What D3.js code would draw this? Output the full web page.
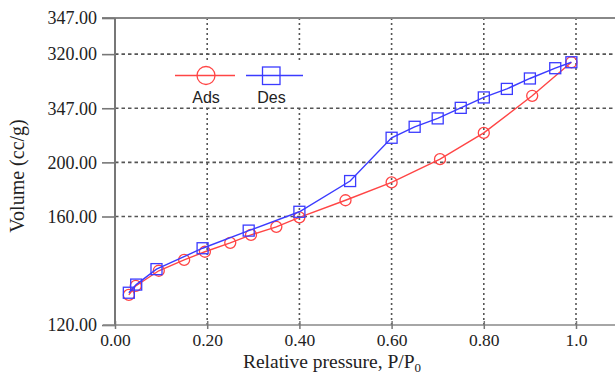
<!DOCTYPE html>
<html><head><meta charset="utf-8">
<script src="https://cdn.jsdelivr.net/npm/d3@7"></script>
<style>body{margin:0;background:#fff}svg{display:block}</style>
</head><body><svg id="c" width="615" height="378"></svg>
<script>
const adsP = [0.03,0.045,0.095,0.15,0.195,0.25,0.295,0.35,0.40,0.50,0.60,0.705,0.80,0.905,0.99];
const adsV = [131.1,134.4,140.0,144.0,147.0,150.3,153.2,156.2,159.7,172.0,185.2,202.4,221.8,249.2,274.0];
const desP = [0.03,0.046,0.09,0.19,0.29,0.40,0.51,0.60,0.65,0.70,0.75,0.80,0.85,0.90,0.955,0.99];
const desV = [131.9,134.9,140.6,148.3,154.8,163.5,186.2,218.2,226.3,232.5,240.3,248.0,254.3,262.0,269.6,274.0];
const xTicks = [0,0.2,0.4,0.6,0.8,1.0];
const xTickLabels = ["0.00","0.20","0.40","0.60","0.80","1.0"];
const yTicks = [120,160,200,240,280,306.7];
const yTickLabels = ["120.00","160.00","200.00","347.00","320.00","347.00"];
const seriesNames = ["Ads","Des"];
const colors = ["#ff4545","#3b3bff"];

const svg = d3.select("#c");
const x = d3.scaleLinear().domain([0,1]).range([115,576]);
const y = d3.scaleLinear().domain([120,160,306.7]).range([325,216.5,18]);
const xR = 615;

// gridlines
svg.append("g").selectAll("line").data(yTicks.slice(1,5)).join("line")
  .attr("x1",115).attr("x2",xR).attr("y1",d=>y(d)).attr("y2",d=>y(d))
  .attr("stroke","#555").attr("stroke-width",1.6).attr("stroke-dasharray","3.5,3");
svg.append("g").selectAll("line").data(xTicks.slice(1)).join("line")
  .attr("x1",d=>x(d)).attr("x2",d=>x(d)).attr("y1",y(306.7)).attr("y2",y(120))
  .attr("stroke","#555").attr("stroke-width",1.6).attr("stroke-dasharray","2,3");

// top border
svg.append("line").attr("x1",102).attr("x2",xR).attr("y1",y(306.7)).attr("y2",y(306.7))
  .attr("stroke","#888").attr("stroke-width",2);

// y axis
const ya = d3.axisLeft(y).tickValues(yTicks).tickSize(13).tickPadding(5)
  .tickFormat((d,i)=>yTickLabels[i]);
const gy = svg.append("g").attr("transform","translate(115,0)").call(ya);
gy.select(".domain").attr("stroke","#777").attr("stroke-width",2).attr("d",`M0,${y(306.7)}V${y(120)}`);
gy.selectAll(".tick line").attr("stroke","#777").attr("stroke-width",1.6);
gy.selectAll(".tick text").attr("font-family","Liberation Serif").attr("font-size",18).attr("fill","#222");

// x axis
const xa = d3.axisBottom(x).tickValues(xTicks).tickSize(4).tickPadding(5)
  .tickFormat((d,i)=>xTickLabels[i]);
const gx = svg.append("g").attr("transform",`translate(0,${y(120)})`).call(xa);
gx.select(".domain").attr("stroke","#888").attr("stroke-width",1.6).attr("d",`M103,0H${xR}`);
gx.selectAll(".tick line").attr("stroke","#777").attr("stroke-width",1.5).attr("y1",-4);
gx.selectAll(".tick text").attr("font-family","Liberation Serif").attr("font-size",17.5).attr("fill","#222");

// axis titles
const xt = svg.append("text").attr("x",332).attr("y",368).attr("text-anchor","middle")
  .attr("font-family","Liberation Serif").attr("font-size",19.5).attr("fill","#222");
xt.append("tspan").text("Relative pressure, P/P");
xt.append("tspan").attr("dy",4).attr("font-size",13).text("0");
svg.append("text").attr("transform","translate(24,176) rotate(-90)").attr("text-anchor","middle")
  .attr("font-family","Liberation Serif").attr("font-size",20).attr("fill","#222").text("Volume (cc/g)");

// series
const line = d3.line().x(d=>x(d[0])).y(d=>y(d[1]));
const ads = adsP.map((p,i)=>[p,adsV[i]]);
const des = desP.map((p,i)=>[p,desV[i]]);
svg.append("path").datum(ads).attr("d",line).attr("fill","none").attr("stroke",colors[0]).attr("stroke-width",1.4);
svg.append("g").selectAll("circle").data(ads).join("circle")
  .attr("cx",d=>x(d[0])).attr("cy",d=>y(d[1])).attr("r",5.5)
  .attr("fill","none").attr("stroke",colors[0]).attr("stroke-width",1.3);
svg.append("path").datum(des).attr("d",line).attr("fill","none").attr("stroke",colors[1]).attr("stroke-width",1.4);
svg.append("g").selectAll("rect").data(des).join("rect")
  .attr("x",d=>x(d[0])-5.5).attr("y",d=>y(d[1])-5.5).attr("width",11).attr("height",11)
  .attr("fill","none").attr("stroke",colors[1]).attr("stroke-width",1.3);

// legend
const lg = svg.append("g");
lg.append("rect").attr("x",170).attr("y",63).attr("width",140).attr("height",44).attr("fill","#fff");
lg.append("line").attr("x1",175).attr("x2",235).attr("y1",75.5).attr("y2",75.5).attr("stroke",colors[0]).attr("stroke-width",1.4);
lg.append("circle").attr("cx",206).attr("cy",75.5).attr("r",9).attr("fill","none").attr("stroke",colors[0]).attr("stroke-width",1.3);
lg.append("line").attr("x1",246).attr("x2",303).attr("y1",75.5).attr("y2",75.5).attr("stroke",colors[1]).attr("stroke-width",1.4);
lg.append("rect").attr("x",262.5).attr("y",67).attr("width",17.5).attr("height",17.5).attr("fill","none").attr("stroke",colors[1]).attr("stroke-width",1.3);
lg.append("text").attr("x",206).attr("y",103).attr("text-anchor","middle").attr("font-family","Liberation Sans").attr("font-size",16).attr("fill","#222").text(seriesNames[0]);
lg.append("text").attr("x",271.5).attr("y",103).attr("text-anchor","middle").attr("font-family","Liberation Sans").attr("font-size",16).attr("fill","#222").text(seriesNames[1]);
</script></body></html>
